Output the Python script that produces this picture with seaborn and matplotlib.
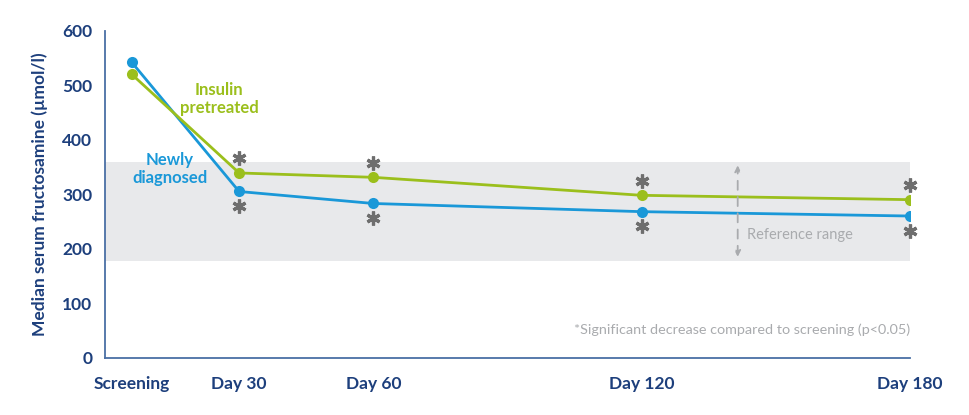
import matplotlib
matplotlib.use("Agg")
import matplotlib.pyplot as plt
import matplotlib.transforms as mtransforms
import seaborn as sns
import pandas as pd

# Data
timepoints = ["Screening", "Day 30", "Day 60", "Day 120", "Day 180"]
day_pos = [6, 30, 60, 120, 180]
newly_diagnosed = [542, 305, 283, 268, 260]
insulin_pretreated = [520, 339, 331, 298, 290]
significant = [False, True, True, True, True]
ref_low, ref_high = 178, 360
y_ticks = [0, 100, 200, 300, 400, 500, 600]

NAVY = "#1d3f7c"
BLUE = "#1a98d8"
GREEN = "#9bbf1c"
GRAY_AST = "#6e6e6e"
LIGHT = "#a9abae"

sns.set_theme(style="white")
plt.rcParams["font.family"] = ["Lato", "DejaVu Sans"]

df = pd.DataFrame({
    "day": day_pos * 2,
    "value": newly_diagnosed + insulin_pretreated,
    "group": ["Newly diagnosed"] * 5 + ["Insulin pretreated"] * 5,
})

fig = plt.figure(figsize=(9.7, 4.15), dpi=100)
ax = fig.add_axes([0.1082, 0.138, 0.8298, 0.788])

ax.axhspan(ref_low, ref_high, xmin=0, xmax=1, color="#e8e9eb", zorder=0, lw=0)

sns.lineplot(data=df, x="day", y="value", hue="group",
             palette={"Newly diagnosed": BLUE, "Insulin pretreated": GREEN},
             marker="o", markersize=8, markeredgewidth=0, linewidth=2,
             legend=False, ax=ax, zorder=3)

ax.set_xlim(0, 180)
ax.set_ylim(0, 600)
ax.set_xticks(day_pos)
ax.set_xticklabels(timepoints)
ax.set_yticks(y_ticks)
ax.tick_params(axis="both", colors=NAVY, labelcolor=NAVY, labelsize=12.5,
               length=5, width=1.2, direction="out")
for lab in ax.get_xticklabels() + ax.get_yticklabels():
    lab.set_fontweight("bold")
ax.tick_params(axis="x", pad=8)
ax.tick_params(axis="y", pad=4)

for s in ["top", "right"]:
    ax.spines[s].set_visible(False)
for s in ["left", "bottom"]:
    ax.spines[s].set_color("#4a6fa5")
    ax.spines[s].set_linewidth(1.3)

ax.set_xlabel("")
ax.set_ylabel("Median serum fructosamine (µmol/l)", color=NAVY,
              fontsize=12.5, fontweight="bold", labelpad=10)

# Significance asterisks (offset above green / below blue points)
up = mtransforms.offset_copy(ax.transData, fig=fig, x=0, y=10.5, units="points")
down = mtransforms.offset_copy(ax.transData, fig=fig, x=0, y=-10.5, units="points")
sig_days = [d for d, s in zip(day_pos, significant) if s]
sig_green = [v for v, s in zip(insulin_pretreated, significant) if s]
sig_blue = [v for v, s in zip(newly_diagnosed, significant) if s]
ax.plot(sig_days, sig_green, ls="none", marker=(6, 2, 0), markersize=10,
        markeredgewidth=2.3, color=GRAY_AST, transform=up, clip_on=False)
ax.plot(sig_days, sig_blue, ls="none", marker=(6, 2, 0), markersize=10,
        markeredgewidth=2.3, color=GRAY_AST, transform=down, clip_on=False)

# Series labels
ax.text(25.5, 475, "Insulin\npretreated", color=GREEN, fontsize=12,
        fontweight="bold", ha="center", va="center", linespacing=1.15)
ax.text(14.5, 347, "Newly\ndiagnosed", color=BLUE, fontsize=12,
        fontweight="bold", ha="center", va="center", linespacing=1.15)

# Reference range arrow
ax.annotate("", xy=(141.5, ref_high - 2), xytext=(141.5, ref_low + 2),
            arrowprops=dict(arrowstyle="<|-|>", color=LIGHT, lw=1.3,
                            linestyle=(0, (5, 4)), mutation_scale=9))
ax.text(143.5, 225, "Reference range", color=LIGHT, fontsize=10.5,
        ha="left", va="center")

# Footnote
ax.text(180, 52, "*Significant decrease compared to screening (p<0.05)",
        color=LIGHT, fontsize=10.4, ha="right", va="center")

fig.savefig("out.png", dpi=100)
